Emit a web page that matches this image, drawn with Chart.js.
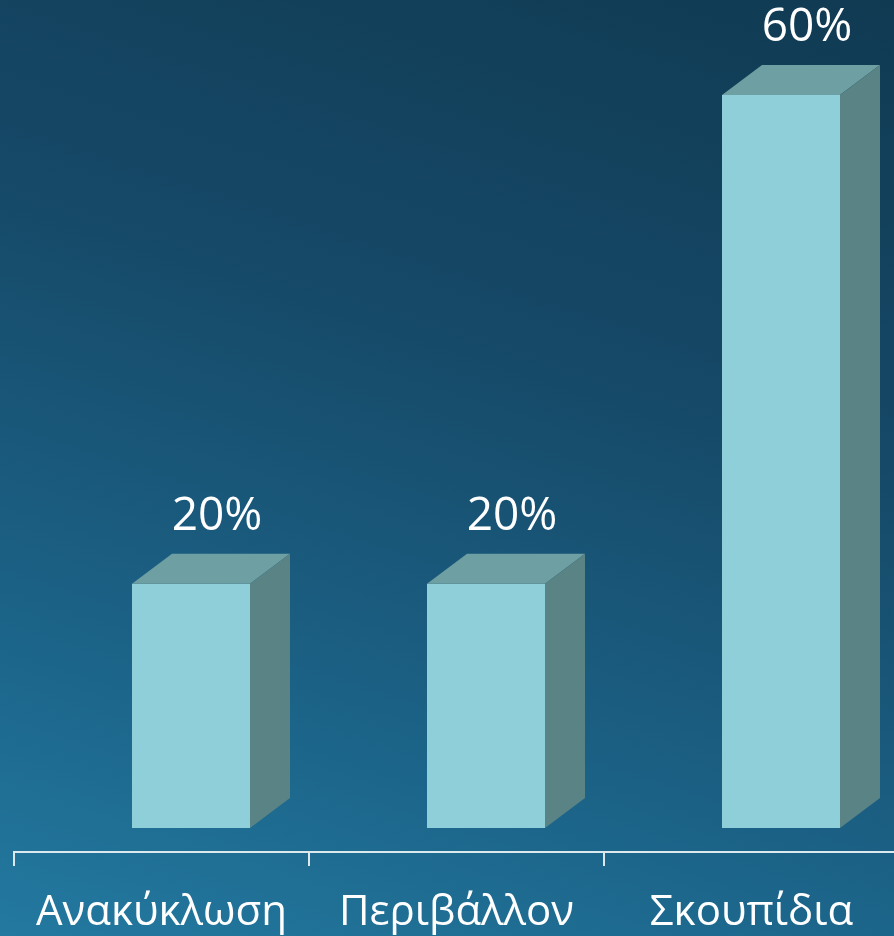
<!DOCTYPE html>
<html>
<head>
<meta charset="utf-8">
<script src="https://cdn.jsdelivr.net/npm/chart.js@4.4.1/dist/chart.umd.min.js"></script>
<style>
  html, body { margin: 0; padding: 0; overflow: hidden; }
  body {
    width: 894px; height: 936px;
    background: linear-gradient(198deg, #103a52 0%, #164a69 40%, #1c6489 75%, #2379a0 100%);
  }
  #wrap { width: 900px; height: 936px; }
</style>
</head>
<body>
<div id="wrap"><canvas id="grafico" width="900" height="936"></canvas></div>
<script>
const categorias = ['Ανακύκλωση', 'Περιβάλλον', 'Σκουπίδια'];
const valores = [20, 20, 60];

document.addEventListener("DOMContentLoaded", () => {
  const lienzo = document.querySelector("#grafico");

  // desplazamiento de las barras hacia el fondo y profundidad 3D
  const fondoX = 29.5, fondoY = -24;
  const prof = { x: 40, y: 30 };

  const barras3d = {
    id: 'barras3d',
    beforeDatasetsDraw(chart) {
      chart.ctx.save();
      chart.ctx.translate(fondoX, fondoY);
    },
    afterDatasetsDraw(chart) {
      const ctx = chart.ctx;
      const meta = chart.getDatasetMeta(0);
      meta.data.forEach((bar, i) => {
        const { x, y, base, width } = bar.getProps(['x', 'y', 'base', 'width'], true);
        const l = x - width / 2, r = x + width / 2;
        // cara superior
        ctx.fillStyle = '#6e9fa2';
        ctx.beginPath();
        ctx.moveTo(l, y);
        ctx.lineTo(l + prof.x, y - prof.y);
        ctx.lineTo(r + prof.x, y - prof.y);
        ctx.lineTo(r, y);
        ctx.closePath();
        ctx.fill();
        // cara lateral
        ctx.fillStyle = '#5a8386';
        ctx.beginPath();
        ctx.moveTo(r, y);
        ctx.lineTo(r + prof.x, y - prof.y);
        ctx.lineTo(r + prof.x, base - prof.y);
        ctx.lineTo(r, base);
        ctx.closePath();
        ctx.fill();
        // etiqueta
        ctx.fillStyle = '#ffffff';
        ctx.font = '46px "Open Sans", sans-serif';
        ctx.textAlign = 'center';
        ctx.textBaseline = 'alphabetic';
        ctx.fillText(valores[i] + '%', x + prof.x / 2 + 6, y - prof.y - 24);
      });
      ctx.restore();
    }
  };

  new Chart(lienzo, {
    type: 'bar',
    data: {
      labels: categorias,
      datasets: [{
        data: valores,
        backgroundColor: '#8ecfd9',
        borderWidth: 0,
        categoryPercentage: 1,
        barPercentage: 0.4
      }]
    },
    options: {
      responsive: false,
      animation: false,
      layout: { padding: { left: 14, right: 1, top: 119, bottom: 0 } },
      plugins: { legend: { display: false }, tooltip: { enabled: false } },
      scales: {
        y: { display: false, min: 0, max: 60 },
        x: {
          afterFit: s => { s.height = 84; },
          border: { display: true, color: '#dce9ef', width: 2 },
          grid: {
            display: true, drawOnChartArea: false, drawTicks: true,
            tickLength: 14, color: '#dce9ef', lineWidth: 2, offset: true
          },
          ticks: {
            color: '#ffffff',
            padding: 22,
            font: { family: '"Open Sans", sans-serif', size: 42 }
          }
        }
      }
    },
    plugins: [barras3d]
  });
});
</script>
</body>
</html>
